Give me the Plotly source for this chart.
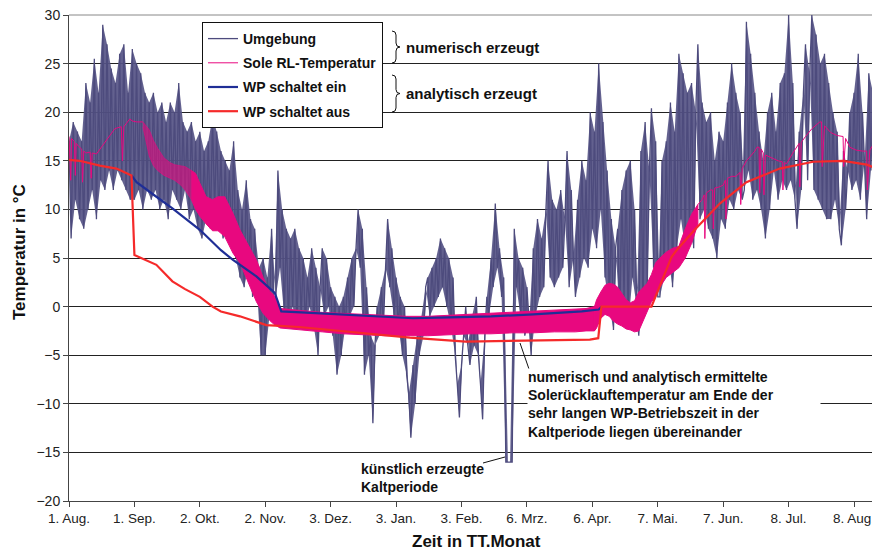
import plotly.graph_objects as go

# ---------------- data ----------------
tick_days = [0, 31, 62, 93, 124, 155, 186, 217, 248, 279, 310, 341, 372]
tick_text = ["1. Aug.", "1. Sep.", "2. Okt.", "2. Nov.", "3. Dez.", "3. Jan.", "3. Feb.",
             "6. Mrz.", "6. Apr.", "7. Mai.", "7. Jun.", "8. Jul.", "8. Aug."]

# Umgebung (ambient), one value per day, day 0 = 1. Aug.
umgebung = [
    17, 7, 19, 11, 18, 9, 17, 8, 23, 10,
    21, 12, 25.5, 9, 22, 13, 29, 12, 27, 14,
    24.5, 12, 23, 14, 26, 13, 27, 12, 22, 11,
    26.5, 11, 25, 12, 24, 10, 22, 12, 21, 11,
    22, 12, 20, 10, 21, 11, 19, 9, 21, 12,
    20, 11, 23, 10, 19, 12, 18, 9, 19, 10,
    17, 8, 18, 7, 16, 9, 17, 8, 19.5, 10,
    18, 9, 16, 7, 15, 8, 14, 6, 17, 5,
    12, 3, 10, 2, 13, 4, 9, 1, 8, 2,
    4, -5, 5, -5, 3, -1, 8, 0, 1, 14,
    4, 10, -1, 8, -2, 7, 0, 8, -2, 6,
    -1, 5, -2, 3, 0, 6, -2, 4, -5, 2,
    6, -1, 5, 0, 2, -3, 1, -7, 0, -5,
    1, -2, 3, -1, 5, 0, 6, 10, 4, 8,
    -7, 2, -5, -3, -12, -4, 0, -3, 2, -2,
    4, 9, 2, 6, -1, 3, -2, 1, -5, 0,
    -7, -9, -13.5, -6, -10, -3, -5, -1, -3, 2,
    3, -1, 4, 0, 5, 1, 7, 2, 6, 0,
    5, -2, 3, -5, -8, -11.4, -6, -3, 0, -4,
    -6, -1, -4, 1, -5, -8, -11.6, -3, 1, -1,
    5, 2, 10.6, 4, 6, 1, 3, -16, -16, -16,
    -16, 8, 2, 5, -1, 4, -3, 2, -2, -5,
    6, -1, 9, 1, 7, 2, 10, 15, 3, 11,
    2, 10, 3, 12, 4, 9, 16, 2, 12, 5,
    1, 11, 3, 15, 5, 13, 4, 20, 8, 18,
    6, 25, 10, 19, 3, 14, 0, 9, -2.4, 6,
    8, -1, 12, 1, 14, -2, 15, 3, 10, 0,
    -3, 16, 0, 19, 2, 14, 20.4, 4, 17, 1,
    1, 15, 3, 17, 5, 21, 2, 18, 6, 26,
    9, 24, 6, 22, 8, 23, 6, 20, 27, 9,
    21, 10, 19, 8, 20, 7, 15, 5, 18, 9,
    17, 8, 21, 11, 25, 10, 22, 12, 20, 11,
    12, 29.3, 14, 26, 11, 22, 12, 18, 10, 15,
    7, 20, 10, 22, 14, 18, 11, 23, 13, 24,
    12, 30, 13, 23, 11, 8, 18, 12, 22, 27,
    13, 24, 30, 12, 28, 11, 25, 10, 26, 9,
    23, 9, 20, 11, 18, 8, 6.3, 16, 10, 14,
    20, 12, 22, 13, 26, 11, 20, 15, 9, 24,
    14, 22, 29, 15, 16,
]
umgebung_days = list(range(len(umgebung)))

# Sole RL-Temperatur: thin line parts (summer / late spring)
sole_a_days = [0, 0.8, 1.2, 2.5, 3, 3.4, 4.5, 6, 6.4, 7, 8, 10, 10.5, 11, 13, 15, 17.7, 20,
               21.7, 23, 24.8, 25.3, 26, 27, 28.8, 30, 32, 35]
sole_a_vals = [17.5, 13, 17.3, 17, 13.5, 16.8, 16.5, 16.2, 12.8, 16, 15.8, 15.9, 13.2, 15.8,
               15.7, 16.3, 17.1, 17.8, 18.3, 18.4, 18.5, 15, 18.5, 18.8, 19.3, 19.1, 19.0, 19.0]
sole_b_days = [298, 300, 301, 301.3, 302, 304, 305, 305.3, 306, 308, 310, 311, 311.3, 312, 314,
               316, 318, 318.3, 319, 321, 323, 325, 326, 327, 327.3, 328, 329, 329.3, 330, 333,
               336, 338, 338.3, 339, 340, 343, 346, 346.3, 347, 349, 352, 355.8, 356.6, 356.9,
               358, 361, 364, 366.8, 367.1, 368, 370, 372, 373, 376, 378, 378.3, 379.5, 382, 384]
sole_b_vals = [10.5, 11, 11.5, 7, 11.7, 12, 12, 8, 12.2, 12.3, 12.5, 13, 9, 13.2, 13.4, 13.4,
               13.8, 10.5, 14.2, 15, 15.5, 16, 16.4, 16.4, 11.7, 16.2, 15.8, 11.5, 15.6, 15.3,
               15.0, 14.9, 12, 14.8, 14.7, 15.8, 16.8, 12.3, 16.9, 17.5, 18.3, 19.0, 19, 14.4,
               18.6, 17.9, 17.6, 17.5, 14.4, 17.3, 16.4, 16.2, 16.1, 16.0, 16.0, 12, 16.1, 17.0, 18.2]

# Sole RL-Temperatur: dense oscillating bands (upper / lower envelopes)
band1_days = [35, 38, 40, 42, 45, 48, 50, 53, 55, 58]
band1_upper = [19.0, 18.2, 17.1, 16.3, 15.3, 14.8, 14.6, 14.5, 14.4, 14.0]
band1_lower = [18.5, 15.5, 14.5, 14.0, 13.5, 13.2, 13.0, 12.5, 12.0, 11.0]

band2_days = [58, 60, 62, 65, 68, 70.6, 73.8, 77.7, 81, 85, 88.8, 92, 95, 97, 98.5, 100, 110,
              120, 130, 140, 150, 160, 170, 180, 190, 200, 210, 220, 230, 240, 245, 249]
band2_upper = [14.0, 13.7, 12.7, 11.3, 11.0, 11.3, 11.3, 9.6, 7.9, 6.3, 4.8, 3.0, 1.6, 1.2, 0.5,
               -0.2, -0.4, -0.6, -0.7, -0.8, -0.9, -1.0, -1.0, -0.9, -0.8, -0.7, -0.6, -0.5,
               -0.4, -0.3, -0.2, 0.0]
band2_lower = [11.0, 10.0, 9.3, 8.5, 7.8, 7.8, 7.2, 5.5, 4.5, 2.5, 0.5, -0.7, -1.4, -1.8, -2.0,
               -2.2, -2.4, -2.6, -2.8, -2.9, -3.0, -3.0, -3.0, -2.9, -2.8, -2.8, -2.7, -2.7,
               -2.6, -2.6, -2.5, -2.5]

band3_days = [249, 250, 252, 254, 256, 258, 260, 262, 264, 266, 268, 270, 272, 274, 276, 278,
              280, 283, 286, 289, 292, 295, 298]
band3_upper = [0.0, 0.7, 1.5, 2.2, 2.4, 2.3, 2.0, 1.3, 0.7, 0.4, 0.6, 1.5, 2.0, 2.4, 3.3, 4.5,
               5.0, 5.6, 6.0, 6.2, 8.0, 9.5, 10.5]
band3_lower = [-2.5, -2.2, -1.2, -0.8, -1.0, -1.5, -1.8, -2.0, -2.3, -2.4, -2.6, -2.5, -1.5,
               -0.5, 0.5, 1.0, 2.0, 3.0, 3.5, 4.0, 5.0, 6.5, 8.5]

# WP schaltet ein (analytisch)
ein_days = [29.6, 32, 41.4, 49, 62, 72, 77.7, 88.8, 97.5, 100.6, 110, 130, 150, 163, 180, 200,
            220, 243, 251, 252.5]
ein_vals = [13.5, 12.8, 11.3, 10.1, 7.9, 5.8, 4.8, 3.1, 1.4, -0.5, -0.6, -0.8, -1.0, -1.2,
            -1.1, -1.0, -0.8, -0.5, -0.3, 0.0]

# WP schaltet aus (analytisch)
aus_days = [0, 5, 14.6, 22.5, 29.6, 31, 41.4, 49, 55, 62, 68, 72, 81, 93.5, 109, 133, 161.5,
            188, 221.5, 246.8, 250.8, 252.3, 276, 285.5, 287.9, 296.5, 308.4, 321, 336.8,
            352.6, 366.8, 378, 384]
aus_vals = [15.1, 15.0, 14.5, 14.2, 13.5, 5.3, 4.3, 2.6, 1.8, 1.0, 0.0, -0.5, -1.0, -1.9, -2.1,
            -2.6, -3.2, -3.6, -3.5, -3.4, -3.25, 0.0, 0.0, 5.1, 5.8, 7.9, 10.6, 12.8, 14.2,
            14.9, 15.0, 14.6, 14.1]

# ---------------- figure ----------------
FONT = "Liberation Sans, Arial, sans-serif"
C_UMG = "#4d4b7d"
C_UMG_FILL = "rgba(86,84,134,0.92)"
C_SOLE = "#e8087f"
C_EIN = "#1f2e96"
C_AUS = "#f52a2a"

# page body has an 8px margin -> figure is drawn from (8, 8)
OFF = 8
W, H = 880 - OFF, 553 - OFF
PL, PR, PT, PB = 69, 880, 15, 501          # plot area in screen pixels
ML, MR, MT, MB = PL - OFF, 880 - PR, PT - OFF, 553 - PB
PW, PH = PR - PL, PB - PT


def px(x, y):
    return (x - PL) / PW, (PB - y) / PH


fig = go.Figure()

# dense look of the hourly series: fill between the alternating day samples
fig.add_trace(go.Scatter(x=umgebung_days[0::2], y=umgebung[0::2], mode="lines",
                         line=dict(width=0, color=C_UMG), showlegend=False,
                         legendgroup="g1", hoverinfo="skip"))
fig.add_trace(go.Scatter(x=umgebung_days[1::2], y=umgebung[1::2], mode="lines",
                         line=dict(width=0, color=C_UMG), fill="tonexty",
                         fillcolor=C_UMG_FILL, showlegend=False, legendgroup="g1",
                         hoverinfo="skip"))
fig.add_trace(go.Scatter(x=umgebung_days, y=umgebung, mode="lines", name="Umgebung",
                         legendgroup="g1", line=dict(color=C_UMG, width=1.3)))


def band(days, upper, lower, color):
    return go.Scatter(x=days + days[::-1], y=upper + lower[::-1], mode="lines",
                      fill="toself", fillcolor=color, line=dict(color=color, width=1),
                      showlegend=False, legendgroup="g2", hoverinfo="skip")


fig.add_trace(band(band1_days, band1_upper, band1_lower, "rgba(232,8,127,0.6)"))
fig.add_trace(band(band2_days, band2_upper, band2_lower, C_SOLE))
fig.add_trace(band(band3_days, band3_upper, band3_lower, C_SOLE))

fig.add_trace(go.Scatter(x=sole_a_days + [None] + sole_b_days,
                         y=sole_a_vals + [None] + sole_b_vals, mode="lines",
                         name="Sole RL-Temperatur", legendgroup="g2",
                         line=dict(color=C_SOLE, width=1)))
fig.add_trace(go.Scatter(x=ein_days, y=ein_vals, mode="lines", name="WP schaltet ein",
                         legendgroup="g3", line=dict(color=C_EIN, width=2.2)))
fig.add_trace(go.Scatter(x=aus_days, y=aus_vals, mode="lines", name="WP schaltet aus",
                         legendgroup="g4", line=dict(color=C_AUS, width=2.2)))

lx, ly = px(202, 22)
fig.update_layout(
    width=W, height=H,
    margin=dict(l=ML, r=MR, t=MT, b=MB, pad=0),
    paper_bgcolor="white", plot_bgcolor="white",
    font=dict(family=FONT, size=14, color="#222"),
    showlegend=True,
    legend=dict(x=lx, y=ly, xanchor="left", yanchor="top", bgcolor="white",
                bordercolor="#111", borderwidth=1, tracegroupgap=3,
                font=dict(family=FONT, size=14, color="#111", weight="bold")),
    xaxis=dict(range=[0, 384.3], tickvals=tick_days, ticktext=tick_text, showgrid=False,
               zeroline=False, showline=True, linecolor="#444", linewidth=1,
               ticks="outside", ticklen=5, tickcolor="#444",
               tickfont=dict(size=13.5, color="#222")),
    yaxis=dict(range=[-20, 30], tickvals=list(range(-20, 31, 5)), showgrid=True,
               gridcolor="#222", gridwidth=1, ticklabeloverflow="allow",
               zeroline=False, showline=True, linecolor="#444", linewidth=1,
               ticks="outside", ticklen=5, tickcolor="#444",
               tickfont=dict(size=14, color="#222")),
)

annotations = []


def ann(text, x, y, xanchor="left", yanchor="middle", size=15, **kw):
    xp, yp = px(x, y)
    annotations.append(dict(text=text, x=xp, y=yp, xref="paper", yref="paper",
                            xanchor=xanchor, yanchor=yanchor, showarrow=False,
                            font=dict(family=FONT, size=size, color="#111", weight="bold"),
                            **kw))


ann("numerisch erzeugt", 404, 47)
ann("analytisch erzeugt", 404, 93)
ann("numerisch und analytisch ermittelte<br>Solerücklauftemperatur am Ende der<br>"
    "sehr langen WP-Betriebszeit in der<br>Kaltperiode liegen übereinander",
    527, 368, yanchor="top", size=14, align="left", bgcolor="white", width=292, borderpad=0)
ann("künstlich erzeugte<br>Kaltperiode", 359, 459, yanchor="top", size=14, align="left")
ann("Temperatur in °C", 20, 252, xanchor="center", size=17, textangle=-90)
ann("Zeit in TT.Monat", 477, 541, xanchor="center", size=17)
fig.update_layout(annotations=annotations)

shapes = [dict(type="line", xref="paper", yref="paper", x0=0, x1=1, y0=1, y1=1,
               line=dict(color="#888", width=1), layer="below")]


def brace(x0, top, bot):
    mid = (top + bot) / 2
    pts = [(x0, top), (x0 + 4, top), (x0 + 4, top + 4), (x0 + 4, mid - 4), (x0 + 4, mid),
           (x0 + 8, mid), (x0 + 4, mid), (x0 + 4, mid + 4), (x0 + 4, bot - 4), (x0 + 4, bot),
           (x0, bot)]
    p = [px(a, b) for a, b in pts]
    path = (f"M{p[0][0]},{p[0][1]} Q{p[1][0]},{p[1][1]} {p[2][0]},{p[2][1]} "
            f"L{p[3][0]},{p[3][1]} Q{p[4][0]},{p[4][1]} {p[5][0]},{p[5][1]} "
            f"Q{p[6][0]},{p[6][1]} {p[7][0]},{p[7][1]} L{p[8][0]},{p[8][1]} "
            f"Q{p[9][0]},{p[9][1]} {p[10][0]},{p[10][1]}")
    shapes.append(dict(type="path", path=path, xref="paper", yref="paper",
                       line=dict(color="#111", width=1)))


def pline(x0, y0, x1, y1):
    a, b = px(x0, y0)
    c, d = px(x1, y1)
    shapes.append(dict(type="line", x0=a, y0=b, x1=c, y1=d, xref="paper", yref="paper",
                       line=dict(color="#111", width=1)))


brace(392, 31, 63)
brace(392, 75, 112)
pline(530, 372, 520, 343)
pline(483, 463, 505, 457)
fig.update_layout(shapes=shapes)

fig.write_html("out.html")
